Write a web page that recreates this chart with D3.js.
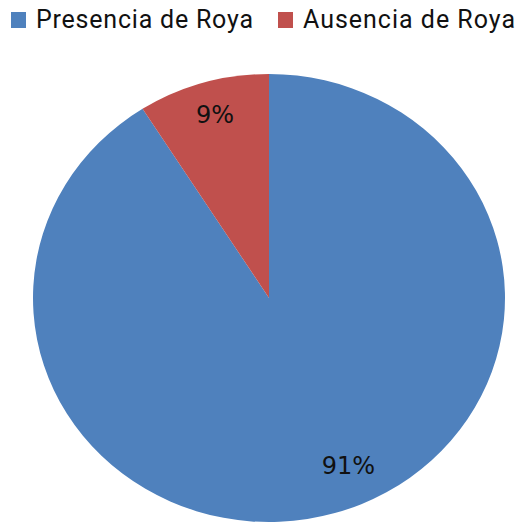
<!DOCTYPE html>
<html>
<head>
<meta charset="utf-8">
<script src="https://cdn.jsdelivr.net/npm/d3@7"></script>
<style>
  body { margin: 0; background: #fff; }
</style>
</head>
<body>
<div id="chart"></div>
<script>
// datos del gráfico
var categorias = ["Presencia de Roya", "Ausencia de Roya"];
var valores = [91, 9];
var etiquetas = ["91%", "9%"];
var colores = ["#4F81BD", "#C0504D"];

var width = 523, height = 523;
var cx = 269, cy = 298, r = 224, sx = 236 / 224;

var svg = d3.select("#chart").append("svg")
  .attr("width", width)
  .attr("height", height);

var pie = d3.pie().sort(null).value(function(d) { return d; });
var arcos = pie(valores);
var arc = d3.arc().innerRadius(0).outerRadius(r);

// pastel (ligeramente ovalado como en el original)
var g = svg.append("g")
  .attr("transform", `translate(${cx},${cy}) scale(${sx},1)`);

g.selectAll("path")
  .data(arcos)
  .enter().append("path")
  .attr("d", arc)
  .attr("fill", function(d, i) { return colores[i]; });

// etiquetas de porcentaje
var factor = [0.78, 0.85];
var desplX = [28, 2];
svg.selectAll(".etiq")
  .data(arcos)
  .enter().append("text")
  .attr("class", "etiq")
  .attr("x", function(d, i) {
    var a = (d.startAngle + d.endAngle) / 2;
    return cx + Math.sin(a) * r * factor[i] * sx + desplX[i];
  })
  .attr("y", function(d, i) {
    var a = (d.startAngle + d.endAngle) / 2;
    return cy - Math.cos(a) * r * factor[i];
  })
  .attr("text-anchor", "middle")
  .attr("dominant-baseline", "central")
  .style("font-family", "DejaVu Sans, sans-serif")
  .style("font-size", "24px")
  .attr("fill", "#111")
  .text(function(d, i) { return etiquetas[i]; });

// leyenda
var leyX = [11, 278];
var leyW = [217, 212];
var ley = svg.selectAll(".ley")
  .data(categorias)
  .enter().append("g")
  .attr("class", "ley")
  .attr("transform", function(d, i) { return `translate(${leyX[i]},12)`; });

ley.append("rect")
  .attr("width", 15)
  .attr("height", 16)
  .attr("fill", function(d, i) { return colores[i]; });

ley.append("text")
  .attr("x", 25)
  .attr("y", 16)
  .attr("textLength", function(d, i) { return leyW[i]; })
  .attr("lengthAdjust", "spacing")
  .style("font-family", "Roboto, sans-serif")
  .style("font-size", "25px")
  .attr("fill", "#111")
  .text(function(d) { return d; });
</script>
</body>
</html>
